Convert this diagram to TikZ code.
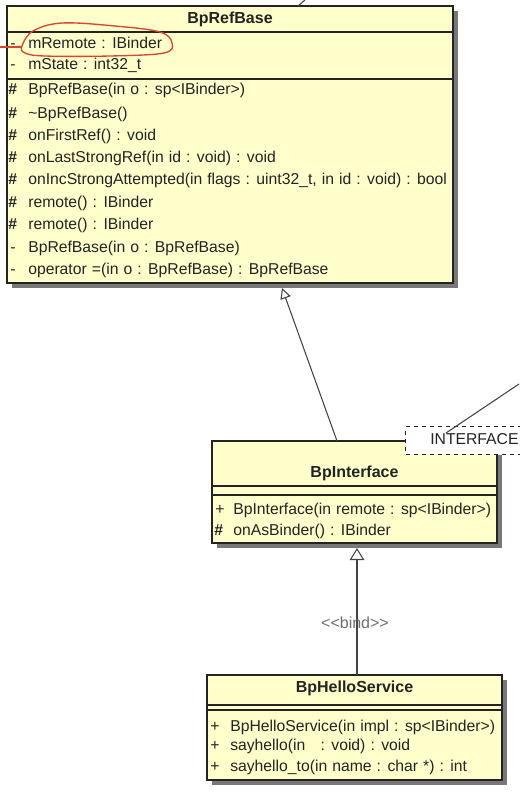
\documentclass[tikz,border=0pt]{standalone}
\usepackage{fontspec}
\setmainfont[WordSpace=1.15]{Liberation Sans}
\usetikzlibrary{arrows.meta,calc,fit}
\definecolor{umlfill}{RGB}{255,255,204}
\definecolor{umltext}{RGB}{35,35,35}
\definecolor{umlline}{RGB}{35,35,35}
\definecolor{shadowc}{RGB}{120,120,120}
\definecolor{redmark}{RGB}{215,70,45}
\definecolor{labelc}{RGB}{110,110,110}
\begin{document}
\begin{tikzpicture}[x=0.75pt,y=-0.75pt,
  classbox/.style={draw=umlline, fill=umlfill, line width=0.9pt, inner sep=0pt},
  shadowbox/.style={fill=shadowc, draw=none},
  divline/.style={draw=umlline, line width=0.9pt},
  rowtext/.style={anchor=west, inner sep=0pt, text height=1.55ex, text depth=0.35ex, font=\fontsize{11.8}{14}\selectfont, text=umltext},
  symtext/.style={rowtext, font=\bfseries\fontsize{11.8}{14}\selectfont},
  titletext/.style={inner sep=0pt, text height=1.55ex, text depth=0.35ex, font=\bfseries\fontsize{12}{14}\selectfont, text=umltext},
  connector/.style={draw=umlline!85, line width=0.8pt},
  inherit/.style={connector, -{Triangle[open, length=8pt, width=8pt]}},
]
\useasboundingbox (0,0) rectangle (519,797);

% ---------------- BpRefBase ----------------
\fill[shadowbox] (12,11) rectangle (458,288);
\coordinate (rbnw) at (7,6);
\coordinate (rbse) at (453,283);
\node[classbox, fit=(rbnw)(rbse)] (refbase) {};
\draw[divline] (7,32) -- (453,32);
\draw[divline] (7,79) -- (453,79);
\node[titletext] (rbtitle) at (230,19) {BpRefBase};
\node[rowtext] (rbs1) at (10,44) {-};
\node[rowtext] (rba1) at (28,44) {mRemote : IBinder};
\node[rowtext] (rbs2) at (10,65) {-};
\node[rowtext] (rba2) at (28,65) {mState : int32\_t};
\node[symtext] (rbo1s) at (8,90.5) {\#};
\node[rowtext] (rbo1) at (28,90.5) {BpRefBase(in o : sp<IBinder>)};
\node[symtext] (rbo2s) at (8,114) {\#};
\node[rowtext] (rbo2) at (28,114) {\textasciitilde BpRefBase()};
\node[symtext] (rbo3s) at (8,136) {\#};
\node[rowtext] (rbo3) at (28,136) {onFirstRef() : void};
\node[symtext] (rbo4s) at (8,158) {\#};
\node[rowtext] (rbo4) at (28,158) {onLastStrongRef(in id : void) : void};
\node[symtext] (rbo5s) at (8,180.5) {\#};
\node[rowtext] (rbo5) at (28,180.5) {onIncStrongAttempted(in flags : uint32\_t, in id : void) : bool};
\node[symtext] (rbo6s) at (8,203) {\#};
\node[rowtext] (rbo6) at (28,203) {remote() : IBinder};
\node[symtext] (rbo7s) at (8,225.5) {\#};
\node[rowtext] (rbo7) at (28,225.5) {remote() : IBinder};
\node[rowtext] (rbo8s) at (10,248) {-};
\node[rowtext] (rbo8) at (28,248) {BpRefBase(in o : BpRefBase)};
\node[rowtext] (rbo9s) at (10,270.5) {-};
\node[rowtext] (rbo9) at (28,270.5) {operator =(in o : BpRefBase) : BpRefBase};

% red hand-drawn mark
\draw[redmark, line width=1pt] plot[smooth cycle, tension=0.6] coordinates {(22,46) (33,31) (62,23) (115,26) (160,32) (172,43) (164,53) (110,56) (45,56) (25,53)};
\coordinate (redend) at (0,47);
\coordinate (redstart) at (22,47);
\draw[redmark, line width=1pt] (redend) -- (redstart);

% connector stub at the top
\coordinate (topa) at (305,0);
\coordinate (topb) at (298,6);
\draw[connector] (topa) -- (topb);

% ---------------- BpInterface ----------------
\fill[shadowbox] (217,446) rectangle (502,548);
\coordinate (binw) at (212,441);
\coordinate (bise) at (497,543);
\node[classbox, fit=(binw)(bise)] (bpif) {};
\draw[divline] (212,486) -- (497,486);
\draw[divline] (212,495) -- (497,495);
\node[titletext] (bititle) at (354.5,473) {BpInterface};
\node[rowtext] (bio1s) at (215,510) {+};
\node[rowtext] (bio1) at (233,510) {BpInterface(in remote : sp<IBinder>)};
\node[symtext] (bio2s) at (214,531) {\#};
\node[rowtext] (bio2) at (233,531) {onAsBinder() : IBinder};

% INTERFACE label box
\node[draw=umlline, dashed, fill=white, line width=0.8pt, anchor=north west, minimum width=90pt, minimum height=21pt, inner sep=0pt] (iface) at (405,426) {};
\node[rowtext, text=umltext] (ifacetext) at (430,440) {INTERFACE};
\coordinate (ifline) at (519,384);
\coordinate (ifend) at (446,433);
\draw[connector] (ifline) -- (ifend);

% ---------------- BpHelloService ----------------
\fill[shadowbox] (212,680) rectangle (507,785);
\coordinate (bhnw) at (207,675);
\coordinate (bhse) at (502,780);
\node[classbox, fit=(bhnw)(bhse)] (bphello) {};
\draw[divline] (207,705) -- (502,705);
\draw[divline] (207,710) -- (502,710);
\node[titletext] (bhtitle) at (354.5,688) {BpHelloService};
\node[rowtext] (bho1s) at (210,727) {+};
\node[rowtext] (bho1) at (230,727) {BpHelloService(in impl : sp<IBinder>)};
\node[rowtext] (bho2s) at (210,746.5) {+};
\node[rowtext] (bho2) at (230,746.5) {sayhello(in \ \ : void) : void};
\node[rowtext] (bho3s) at (210,767) {+};
\node[rowtext] (bho3) at (230,767) {sayhello\_to(in name : char *) : int};

% ---------------- connectors ----------------
\coordinate (ifctop) at (337,441);
\coordinate (rbbot) at (282,288);
\draw[inherit] (ifctop) -- (rbbot);

\coordinate (hellotop) at (357,675);
\coordinate (ifcbot) at (357,548);
\draw[connector, -{Triangle[open, length=9pt, width=11pt]}] (hellotop) -- (ifcbot);
\node[inner sep=0pt, text=labelc, font=\fontsize{12}{14}\selectfont] (bindlbl) at (355,623) {<{}<bind>{}>};
\end{tikzpicture}
\end{document}
